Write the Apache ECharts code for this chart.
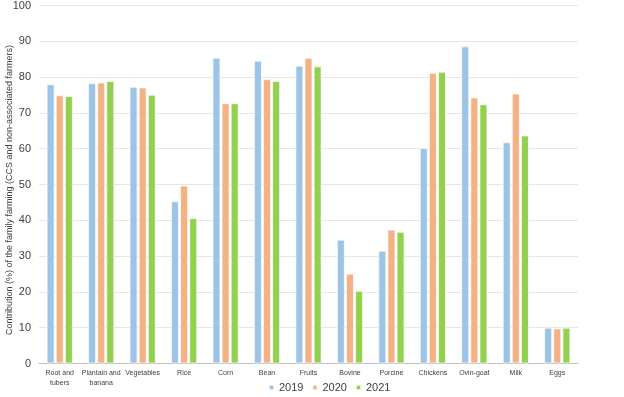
<!DOCTYPE html>
<html><head><meta charset="utf-8">
<script src="https://cdn.jsdelivr.net/npm/echarts@6/dist/echarts.min.js"></script>
<style>html,body{margin:0;padding:0;background:#fff}#c{width:624px;height:397px}</style>
</head><body><div id="c"></div>
<script>
const categories = ['Root and\ntubers','Plantain and\nbanana','Vegetables','Rice','Corn','Bean','Fruits','Bovine','Porcine','Chickens','Ovin-goat','Milk','Eggs'];
const years = ['2019','2020','2021'];
const v2019 = [78.0, 78.3, 77.3, 45.3, 85.4, 84.6, 83.2, 34.6, 31.5, 60.2, 88.6, 61.8, 10.0];
const v2020 = [74.9, 78.5, 77.1, 49.7, 72.7, 79.4, 85.4, 25.1, 37.4, 81.2, 74.3, 75.4, 9.8];
const v2021 = [74.7, 78.9, 75.1, 40.6, 72.7, 78.9, 83.0, 20.3, 36.8, 81.5, 72.4, 63.7, 10.0];
const yTicks = [0,10,20,30,40,50,60,70,80,90,100];
const yTitle = 'Contribution (%) of the family farming (CCS and non-associated farmers)';
const colors = ['#9DC3E6','#F4B183','#92D050'];

const chart = echarts.init(document.getElementById('c'), null, {renderer:'canvas'});
const mk = (name, data, i) => ({
  name, type:'bar', data, barWidth:8, barGap:'14%',
  itemStyle:{color:colors[i], borderColor:'rgba(255,255,255,0.7)', borderWidth:1},
  emphasis:{disabled:true}
});
chart.setOption({
  animation:false,
  grid:{left:39, right:46, top:4, bottom:33.5, containLabel:false},
  legend:{
    data:years, top:382, left:268, itemWidth:5, itemHeight:5, itemGap:8,
    padding:0, icon:'rect',
    textStyle:{fontFamily:'Liberation Sans, Arial', fontSize:11, color:'#404040'}
  },
  graphic:[{
    type:'text', x:10, y:190, rotation:Math.PI/2,
    style:{text:yTitle, font:'9px "Liberation Sans", Arial', fill:'#404040', textAlign:'center', textVerticalAlign:'middle'}
  }],
  xAxis:{
    type:'category', data:categories,
    axisLine:{lineStyle:{color:'#BFBFBF', width:1}},
    axisTick:{show:false},
    axisLabel:{interval:0, fontFamily:'Liberation Sans, Arial', fontSize:7, color:'#404040', lineHeight:9.7, margin:5}
  },
  yAxis:{
    type:'value', min:yTicks[0], max:yTicks[yTicks.length-1], interval:10,
    axisLine:{show:false}, axisTick:{show:false},
    axisLabel:{fontFamily:'Liberation Sans, Arial', fontSize:11, color:'#404040', margin:8},
    splitLine:{lineStyle:{color:'#E6E6E6', width:1}}
  },
  series:[mk('2019',v2019,0), mk('2020',v2020,1), mk('2021',v2021,2)]
});
</script></body></html>
